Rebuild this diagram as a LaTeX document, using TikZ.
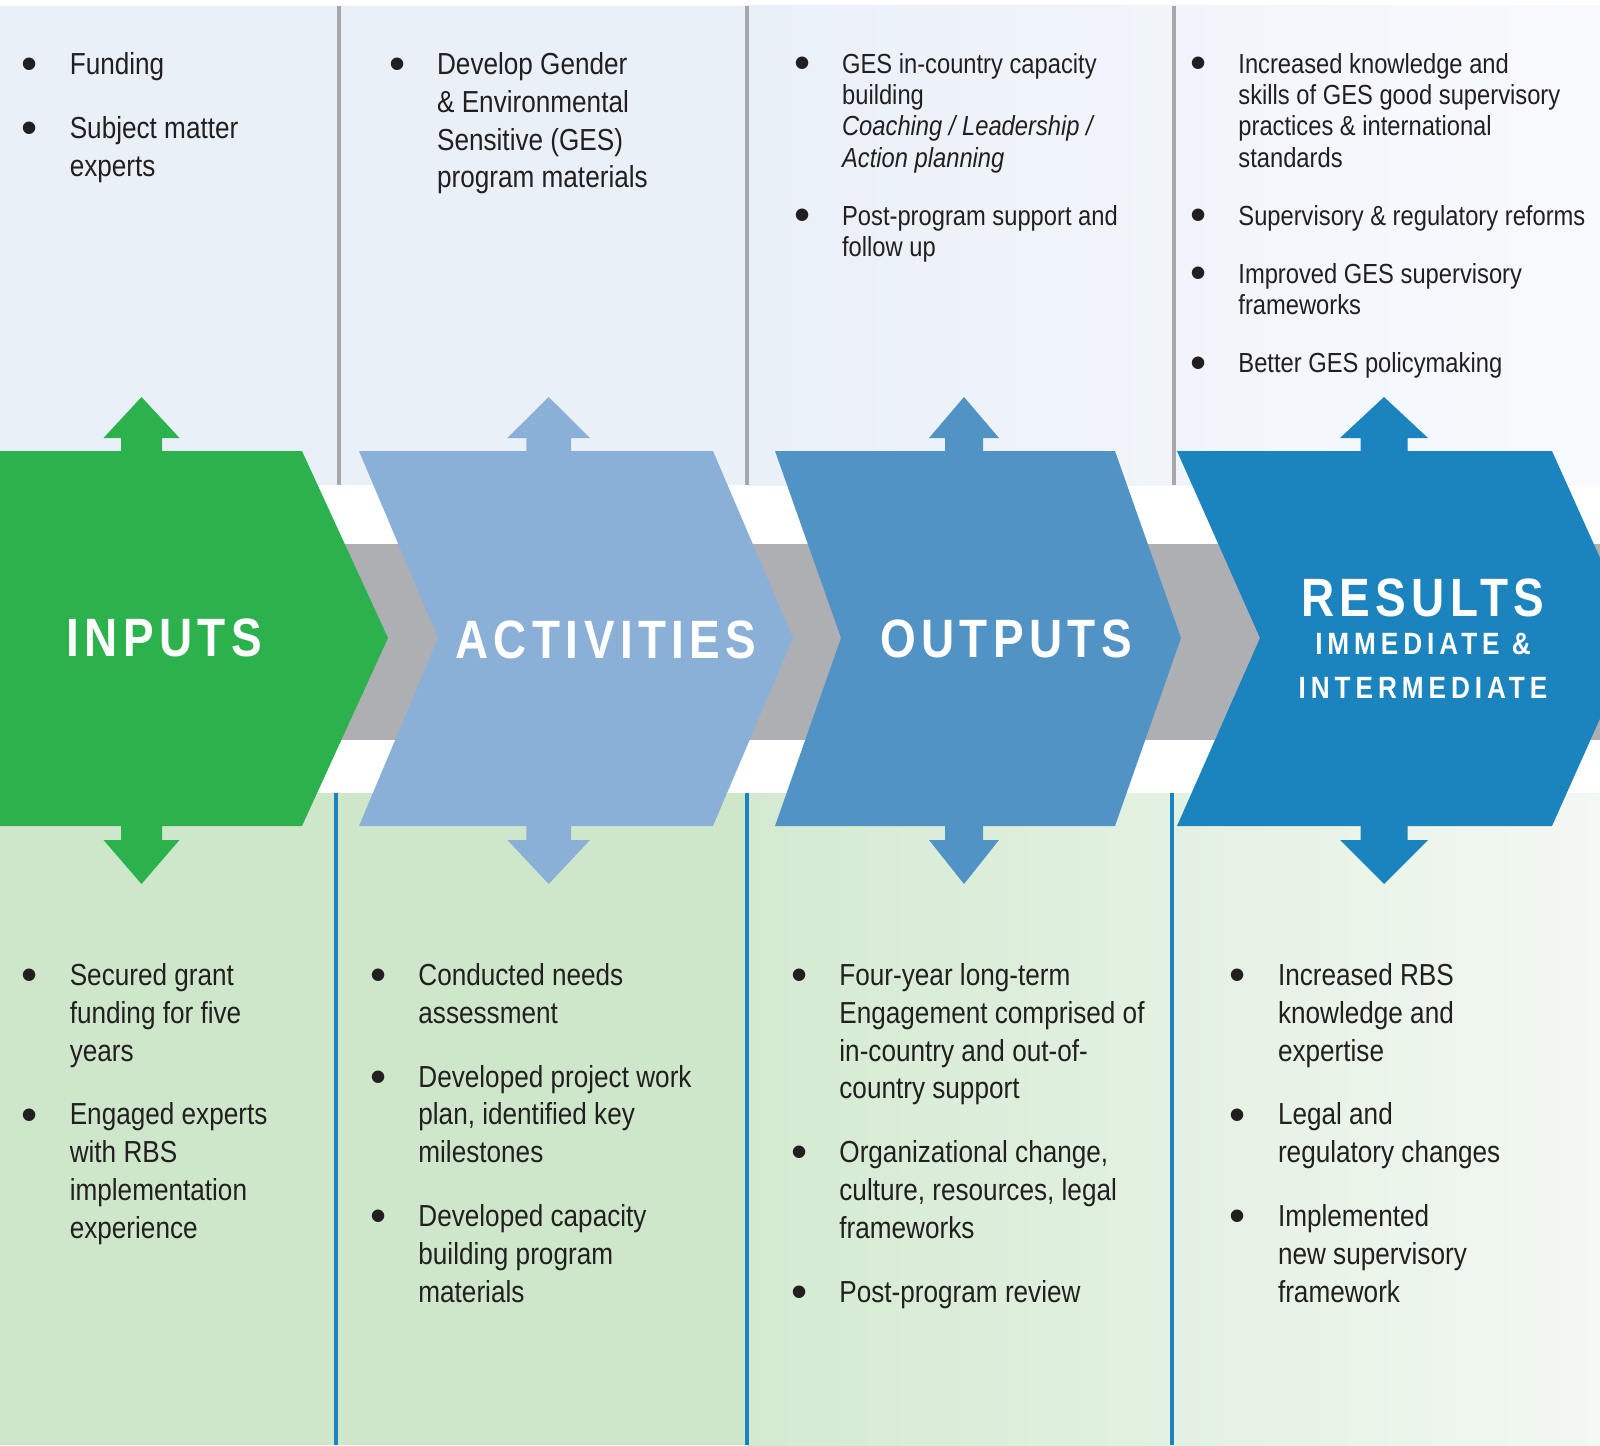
\documentclass[tikz,border=0pt]{standalone}
\usepackage{fontspec}
\setmainfont[FakeStretch=0.86]{Liberation Sans}
\newfontfamily\headfont[FakeStretch=0.85,LetterSpace=10]{Liberation Sans}
\newfontfamily\subheadfont[FakeStretch=0.85,LetterSpace=16]{Liberation Sans}
\newfontfamily\bulfont{Liberation Sans}
\usetikzlibrary{positioning}

\definecolor{inputs}{HTML}{2BB24C}
\definecolor{activities}{HTML}{8BB0D8}
\definecolor{outputs}{HTML}{5293C5}
\definecolor{results}{HTML}{1B83BD}
\definecolor{band}{HTML}{AEAFB3}
\definecolor{divgray}{HTML}{A7A8AB}
\definecolor{divblue}{HTML}{1B83BD}
\definecolor{topL}{HTML}{EAF0F8}
\definecolor{topR}{HTML}{F8FAFD}
\definecolor{botL}{HTML}{CEE7CB}
\definecolor{botM}{HTML}{D3EAD1}
\definecolor{botR}{HTML}{F3F8F2}
\definecolor{ink}{HTML}{231F20}

\newcommand\bul{\llap{\raisebox{-2.6pt}{\bulfont\fontsize{23}{23}\selectfont\textbullet}\hspace{16pt}}}
\newcommand\chevron[5]{\fill[#5] (#1,451) -- (#3,451) -- (#4,638) -- (#3,826) -- (#1,826) -- (#2,638) -- cycle;}
\newcommand\updown[4]{\fill[#4] (#1,397) -- (#1+#2,438) -- (#1+#3,438) -- (#1+#3,840) -- (#1+#2,840) -- (#1,884)
  -- (#1-#2,840) -- (#1-#3,840) -- (#1-#3,438) -- (#1-#2,438) -- cycle;}

\begin{document}
\begin{tikzpicture}[x=0.5pt,y=-0.5pt,
    bodytext/.style={anchor=north west,align=left,inner sep=0pt,text=ink,font=\fontsize{15.2}{18.9}\selectfont},
    smalltext/.style={bodytext,font=\fontsize{13.8}{15.6}\selectfont},
    stagetitle/.style={anchor=base,inner sep=0pt,text=white,font=\fontsize{27}{30}\headfont\bfseries},
    stagesub/.style={stagetitle,font=\fontsize{15.4}{18}\subheadfont\bfseries}]
  \useasboundingbox (0,0) rectangle (1600,1445);
  \clip (0,0) rectangle (1600,1445);

  \fill[topL] (0,6) rectangle (747,485);
  \shade[left color=topL,right color=topR] (747,6) rectangle (1600,485);
  \fill[botL] (0,793) rectangle (747,1445);
  \shade[left color=botM,right color=botR] (747,793) rectangle (1600,1445);
  \fill[band] (0,544) rectangle (1600,740);

  \foreach \x in {339,747,1174}
    \draw[divgray,line width=2pt] (\x,6) -- (\x,485);
  \foreach \x in {336,747,1172}
    \draw[divblue,line width=2pt] (\x,793) -- (\x,1445);

  \updown{141.5}{38}{20.5}{inputs}
  \updown{548.7}{41.3}{22.3}{activities}
  \updown{964}{35}{19}{outputs}
  \updown{1384}{44}{23.5}{results}

  \chevron{0}{0}{302}{388}{inputs}
  \chevron{359}{438}{713}{793}{activities}
  \chevron{775}{841}{1115}{1181}{outputs}
  \chevron{1177}{1260}{1552}{1636}{results}

  \node[stagetitle] (inputs) at (164,656) {INPUTS};
  \node[stagetitle] (activities) at (606,658) {ACTIVITIES};
  \node[stagetitle] (outputs) at (1006,657) {OUTPUTS};
  \node[stagetitle] (results) at (1423,616) {RESULTS};
  \node[stagesub] (immediate) at (1423,654) {IMMEDIATE \&};
  \node[stagesub] (intermediate) at (1423,698) {INTERMEDIATE};

  \node[bodytext] (in_top) at (69.4,52)
    {\bul Funding\\[13pt]\bul Subject matter\\experts};
  \node[bodytext] (act_top) at (436.7,52)
    {\bul Develop Gender\\\& Environmental\\Sensitive (GES)\\program materials};
  \node[smalltext] (out_top) at (841.7,53)
    {\bul GES in-country capacity\\building\\\textit{Coaching / Leadership /}\\\textit{Action planning}\\[13.5pt]%
     \bul Post-program support and\\follow up};
  \node[smalltext] (res_top) at (1238,53)
    {\bul Increased knowledge and\\skills of GES good supervisory\\practices \& international\\standards\\[13.5pt]%
     \bul Supervisory \& regulatory reforms\\[13.5pt]%
     \bul Improved GES supervisory\\frameworks\\[13.5pt]%
     \bul Better GES policymaking};

  \node[bodytext] (in_bot) at (69.4,963)
    {\bul Secured grant\\funding for five\\years\\[13pt]%
     \bul Engaged experts\\with RBS\\implementation\\experience};
  \node[bodytext] (act_bot) at (418,963)
    {\bul Conducted needs\\assessment\\[13pt]%
     \bul Developed project work\\plan, identified key\\milestones\\[13pt]%
     \bul Developed capacity\\building program\\materials};
  \node[bodytext] (out_bot) at (839,963)
    {\bul Four-year long-term\\Engagement comprised of\\in-country and out-of-\\country support\\[13pt]%
     \bul Organizational change,\\culture, resources, legal\\frameworks\\[13pt]%
     \bul Post-program review};
  \node[bodytext] (res_bot) at (1277.6,963)
    {\bul Increased RBS\\knowledge and\\expertise\\[13pt]%
     \bul Legal and\\regulatory changes\\[13pt]%
     \bul Implemented\\new supervisory\\framework};
\end{tikzpicture}
\end{document}
